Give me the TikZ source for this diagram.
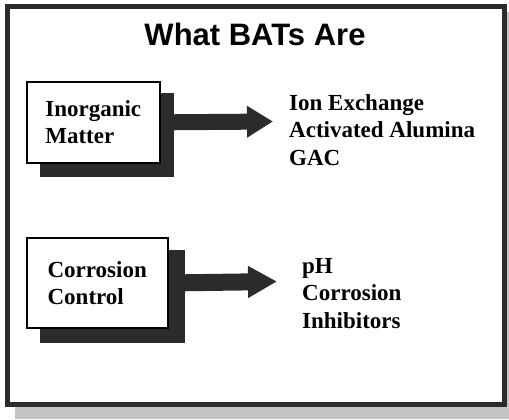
\documentclass[tikz,border=0pt]{standalone}
\usepackage{fontspec}
\setmainfont{Liberation Serif}
\newfontfamily\titlefont{Liberation Sans}
\usetikzlibrary{arrows.meta}
\definecolor{shade}{HTML}{2B2B2B}
\definecolor{band}{HTML}{C4C4C4}
\tikzset{
  shadowbox/.style={draw=none, fill=shade, inner sep=0pt, anchor=north west},
  itembox/.style={draw=black, line width=1.5bp, fill=white, inner sep=0pt, anchor=north west,
    align=left, font=\bfseries\fontsize{23bp}{27bp}\selectfont},
  listtext/.style={inner sep=0pt, anchor=base west, align=left,
    font=\bfseries\fontsize{23bp}{27.5bp}\selectfont},
  bigarrow/.style={draw=shade, line width=16bp, -{Triangle[length=26bp,width=30bp]}, shorten <=-0.5bp}
}
\begin{document}
\begin{tikzpicture}[x=1bp,y=-1bp]
\useasboundingbox (0,0) rectangle (509,419);
% gray page edge
\fill[band] (15,407) rectangle (509,419);
\fill[band] (506,12) rectangle (509,419);
% frame
\draw[line width=5bp, draw=shade] (7.5,6.5) rectangle (504.5,404.5);
% title
\node[anchor=base, inner sep=0pt, font=\titlefont\bfseries\fontsize{31bp}{36bp}\selectfont] (title) at (255,45) {What BATs Are};
% first row
\node[shadowbox, minimum width=134bp, minimum height=84bp] (sh1) at (40,93) {};
\node[itembox, minimum width=133bp, minimum height=81bp] (b1) at (26,81) {Inorganic\\Matter};
\coordinate (tip1) at (273,121.5);
\draw[bigarrow] (sh1.east |- b1.center) -- (tip1);
\node[listtext] (t1) at (289,165) {Ion Exchange\\Activated Alumina\\GAC};
% second row
\node[shadowbox, minimum width=145bp, minimum height=93bp] (sh2) at (40,250) {};
\node[itembox, minimum width=141bp, minimum height=90bp] (b2) at (26,237) {Corrosion\\Control};
\coordinate (tip2) at (277,281.5);
\draw[bigarrow, line width=17bp, -{Triangle[length=29bp,width=30bp]}] (sh2.east |- b2.center) -- (tip2);
\node[listtext] (t2) at (302,328) {pH\\Corrosion\\Inhibitors};
\end{tikzpicture}
\end{document}
